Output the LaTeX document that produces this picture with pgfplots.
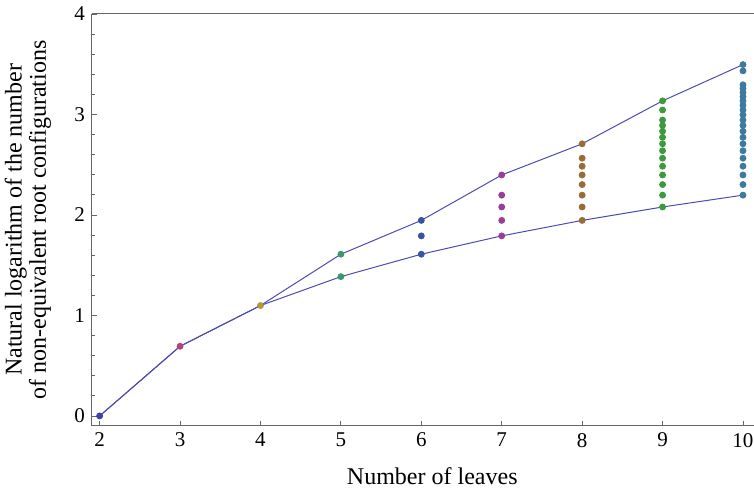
\documentclass[border=0pt]{standalone}
\usepackage{fontspec}
\setmainfont{Liberation Serif}
\usepackage{pgfplots}
\pgfplotsset{compat=1.18}

\definecolor{linec}{rgb}{0.30,0.30,0.70}
\definecolor{axc}{rgb}{0.40,0.40,0.40}
\definecolor{c2}{rgb}{0.25,0.25,0.65}
\definecolor{c3}{rgb}{0.72,0.25,0.45}
\definecolor{c4}{rgb}{0.70,0.60,0.20}
\definecolor{c5}{rgb}{0.22,0.60,0.42}
\definecolor{c6}{rgb}{0.22,0.32,0.65}
\definecolor{c7}{rgb}{0.60,0.24,0.60}
\definecolor{c8}{rgb}{0.60,0.42,0.22}
\definecolor{c9}{rgb}{0.24,0.60,0.24}
\definecolor{c10}{rgb}{0.24,0.48,0.62}

\begin{document}
\begin{tikzpicture}
  \begin{axis}[
    scale only axis, width=331pt, height=206pt,
    xmin=1.905, xmax=10.137, ymin=-0.1, ymax=4,
    axis x line=bottom, axis y line=left,
    axis line style={-, axc, line width=0.5pt},
    xtick={2,3,4,5,6,7,8,9,10}, ytick={0,1,2,3,4},
    minor y tick num=4,
    tick align=inside,
    major tick length=2.5pt, minor tick length=1.5pt,
    tick style={axc, line width=0.4pt},
    /pgf/number format/assume math mode=true,
    tick label style={font=\fontsize{10.5}{12}\selectfont},
    label style={font=\fontsize{12}{12.2}\selectfont},
    xlabel={Number of leaves},
    xlabel style={at={(axis description cs:0.514,-0.143)}, anchor=base},
    ylabel={Natural logarithm of the number\\of non-equivalent root configurations},
    ylabel style={align=center, at={(axis description cs:-0.051,0.5)}, anchor=south},
    clip=false,
  ]
    \draw[axc, line width=0.5pt] (rel axis cs:0,1) -- (rel axis cs:1,1);

    % upper and lower envelopes
    \addplot[no marks, linec, line width=0.5pt] coordinates {
      (2,0) (3,0.6931) (4,1.0986) (5,1.6094) (6,1.9459)
      (7,2.3979) (8,2.7081) (9,3.1355) (10,3.4965)};
    \addplot[no marks, linec, line width=0.5pt] coordinates {
      (2,0) (3,0.6931) (4,1.0986) (5,1.3863) (6,1.6094)
      (7,1.7918) (8,1.9459) (9,2.0794) (10,2.1972)};

    \pgfplotsset{dots/.style={only marks, mark=*, mark size=1.5pt}}
    \addplot[dots, c2] coordinates {(2,0)};
    \addplot[dots, c3] coordinates {(3,0.6931)};
    \addplot[dots, c4] coordinates {(4,1.0986)};
    \addplot[dots, c5] coordinates {(5,1.3863) (5,1.6094)};
    \addplot[dots, c6] coordinates {(6,1.6094) (6,1.7918) (6,1.9459)};
    \addplot[dots, c7] coordinates {
      (7,1.7918) (7,1.9459) (7,2.0794) (7,2.1972) (7,2.3979)};
    \addplot[dots, c8] coordinates {
      (8,1.9459) (8,2.0794) (8,2.1972) (8,2.3026) (8,2.3979)
      (8,2.4849) (8,2.5649) (8,2.7081)};
    \addplot[dots, c9] coordinates {
      (9,2.0794) (9,2.1972) (9,2.3026) (9,2.3979) (9,2.4849)
      (9,2.5649) (9,2.6391) (9,2.7081) (9,2.7726) (9,2.8332)
      (9,2.8904) (9,2.9444) (9,3.0445) (9,3.1355)};
    \addplot[dots, c10] coordinates {
      (10,2.1972) (10,2.3026) (10,2.3979) (10,2.4849) (10,2.5649)
      (10,2.6391) (10,2.7081) (10,2.7726) (10,2.8332) (10,2.8904)
      (10,2.9444) (10,2.9957) (10,3.0445) (10,3.0910) (10,3.1355)
      (10,3.1781) (10,3.2189) (10,3.2581) (10,3.2958) (10,3.4340)
      (10,3.4965)};
  \end{axis}
  \pgfresetboundingbox
  \path[use as bounding box] ([shift={(-46pt,-31.5pt)}]current axis.south west)
    rectangle ([shift={(0pt,7pt)}]current axis.north east);
\end{tikzpicture}
\end{document}
